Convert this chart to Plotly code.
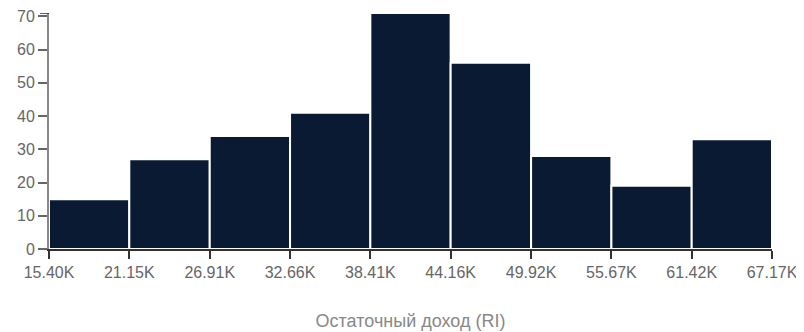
import plotly.graph_objects as go

bin_edges = [15400, 21150, 26910, 32660, 38410, 44160, 49920, 55670, 61420, 67170]
tick_labels = ["15.40K", "21.15K", "26.91K", "32.66K", "38.41K", "44.16K", "49.92K", "55.67K", "61.42K", "67.17K"]
counts = [15, 27, 34, 41, 71, 56, 28, 19, 33]
y_ticks = [0, 10, 20, 30, 40, 50, 60, 70]
y_max = 71
x_title = "Остаточный доход (RI)"

centers = [(a + b) / 2 for a, b in zip(bin_edges[:-1], bin_edges[1:])]
widths = [b - a for a, b in zip(bin_edges[:-1], bin_edges[1:])]

fig = go.Figure(go.Bar(
    x=centers, y=counts, width=widths,
    marker=dict(color="#0b1a33", line=dict(color="white", width=2)),
    hoverinfo="skip",
))

# page body has an 8px default margin; compensate so the chart fills 804x332
fig.update_layout(
    width=796, height=324,
    margin=dict(l=41, r=32, t=5, b=83),
    plot_bgcolor="white", paper_bgcolor="white",
    font=dict(family="Liberation Sans, Arial, sans-serif", size=16, color="#666"),
    showlegend=False,
)
fig.update_xaxes(
    range=[bin_edges[0], bin_edges[-1]],
    tickvals=bin_edges, ticktext=tick_labels,
    ticks="outside", ticklen=8, tickcolor="#333", tickwidth=1.5,
    showline=True, linecolor="#333", linewidth=1.5,
    showgrid=False, zeroline=False, automargin=False,
    ticklabeloverflow="allow",
    title=dict(text=x_title, standoff=34, font=dict(size=18, color="#888")),
)
fig.update_yaxes(
    range=[0, y_max],
    tickvals=y_ticks,
    ticks="outside", ticklen=9, tickcolor="#666", tickwidth=1.5,
    showline=True, linecolor="#888", linewidth=2,
    showgrid=False, zeroline=False, automargin=False,
    ticklabeloverflow="allow",
)
# outer tick at the top end of the y axis domain
fig.add_shape(type="line", xref="paper", yref="y", x0=-0.0125, x1=0, y0=y_max, y1=y_max,
              line=dict(color="#333", width=1.5))

fig.write_html("out.html")
